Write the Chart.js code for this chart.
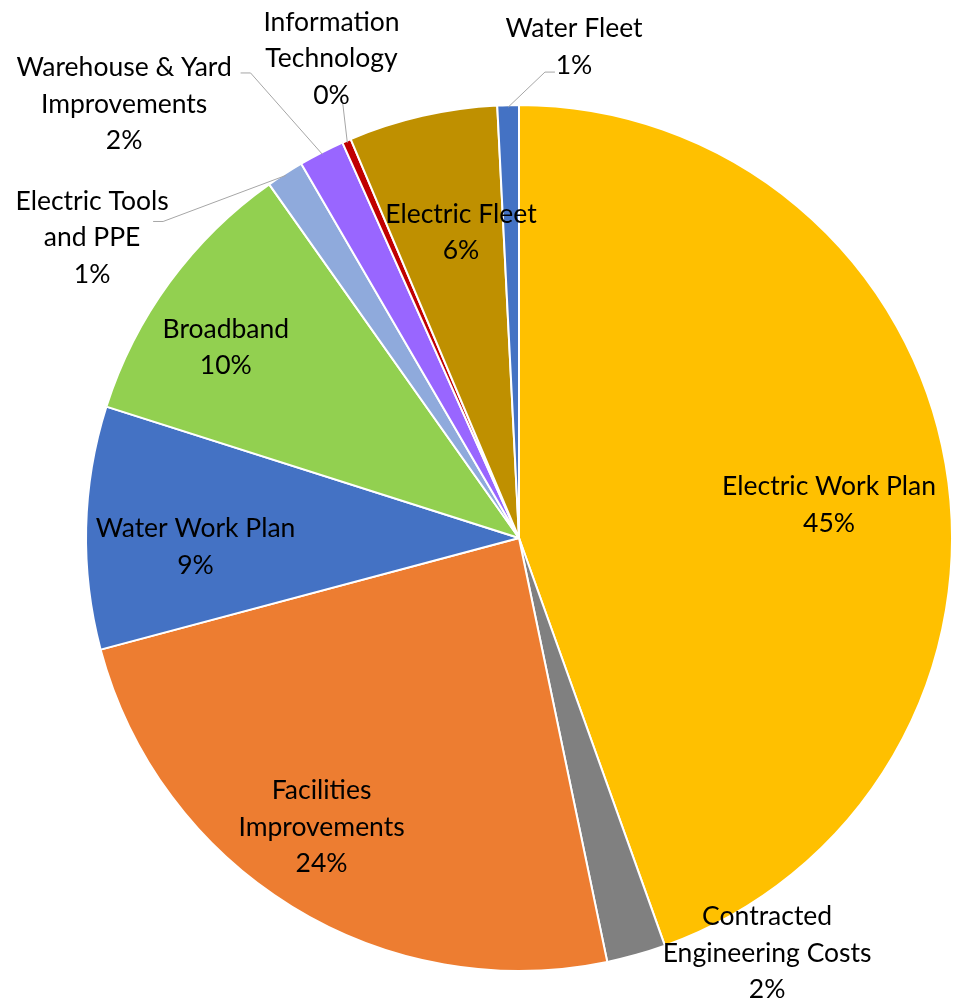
<!DOCTYPE html>
<html>
<head>
<meta charset="utf-8">
<script src="https://cdn.jsdelivr.net/npm/chart.js@4.4.0/dist/chart.umd.min.js"></script>
<style>
    html, body { margin: 0; padding: 0; background: #fff; overflow: hidden; }
    #wrap { width: 953px; height: 1004px; }
</style>
</head>
<body>
<div id="wrap"><canvas id="grafico" width="953" height="1004"></canvas></div>
<script>
// categorias y valores (en porcentaje)
var categorias = [
    'Electric Work Plan', 'Contracted Engineering Costs', 'Facilities Improvements',
    'Water Work Plan', 'Broadband', 'Electric Tools and PPE',
    'Warehouse & Yard Improvements', 'Information Technology', 'Electric Fleet', 'Water Fleet'
];
// lineas de texto de cada etiqueta
var etiquetas = [
    ['Electric Work Plan'], ['Contracted', 'Engineering Costs'], ['Facilities', 'Improvements'],
    ['Water Work Plan'], ['Broadband'], ['Electric Tools', 'and PPE'],
    ['Warehouse & Yard', 'Improvements'], ['Information', 'Technology'], ['Electric Fleet'], ['Water Fleet']
];
var valores = [44.5, 2.2, 24.1, 9.05, 10.3, 1.4, 1.7, 0.33, 5.55, 0.8];
var colores = ['#FFC000', '#808080', '#ED7D31', '#4472C4', '#92D050', '#8FAADC', '#9966FF', '#C00000', '#BF9000', '#4472C4'];

(function () {

    // posicion del centro de cada etiqueta, en radios desde el centro del pastel
    var posiciones = [
        [0.716, -0.081], [0.573, 0.954], [-0.456, 0.663], [-0.747, 0.016], [-0.677, -0.445],
        [-0.986, -0.698], [-0.912, -1.007], [-0.433, -1.111], [-0.134, -0.710], [0.127, -1.139]
    ];
    // lineas guia: punto de inicio (en radios) y direccion del tramo horizontal
    var guias = [null, null, null, null, null,
        [-0.845, -0.731, 1], [-0.643, -1.074, 1], [-0.408, -1.012, 0], null, [0.083, -1.076, -1]];

    var etiquetasPlugin = {
        id: 'etiquetas',
        afterDatasetsDraw: function (chart) {
            var ctx = chart.ctx;
            var meta = chart.getDatasetMeta(0);
            var total = valores.reduce(function (a, b) { return a + b; }, 0);
            var lh = 36.5;
            ctx.save();
            meta.data.forEach(function (arc, i) {
                var p = arc.getProps(['x', 'y', 'startAngle', 'endAngle', 'outerRadius'], true);
                var r = p.outerRadius;
                var g = guias[i];
                if (g) {
                    var mid = (p.startAngle + p.endAngle) / 2;
                    var sx = p.x + g[0] * r, sy = p.y + g[1] * r;
                    ctx.beginPath();
                    ctx.strokeStyle = '#A6A6A6';
                    ctx.lineWidth = 1;
                    ctx.moveTo(sx, sy);
                    ctx.lineTo(sx + g[2] * 10, sy);
                    ctx.lineTo(p.x + Math.cos(mid) * (r - 2), p.y + Math.sin(mid) * (r - 2));
                    ctx.stroke();
                }
                var lx = p.x + posiciones[i][0] * r;
                var ly = p.y + posiciones[i][1] * r + 2;
                var lineas = etiquetas[i].concat([Math.round(valores[i] / total * 100) + '%']);
                ctx.font = '26.5px Lato';
                ctx.fillStyle = '#000';
                ctx.textAlign = 'center';
                ctx.textBaseline = 'middle';
                lineas.forEach(function (t, k) {
                    ctx.fillText(t, lx, ly + (k - (lineas.length - 1) / 2) * lh);
                });
            });
            ctx.restore();
        }
    };

    var ctx = document.getElementById('grafico').getContext('2d');
    var grafico = new Chart(ctx, {
        type: 'pie',
        data: {
            labels: categorias,
            datasets: [{
                data: valores,
                backgroundColor: colores,
                borderColor: '#FFFFFF',
                borderWidth: 2
            }]
        },
        options: {
            responsive: false,
            animation: false,
            layout: {
                padding: { left: 85, right: 0, top: 103, bottom: 31 }
            },
            plugins: {
                legend: { display: false },
                tooltip: { enabled: false }
            }
        },
        plugins: [etiquetasPlugin]
    });

})();
</script>
</body>
</html>
